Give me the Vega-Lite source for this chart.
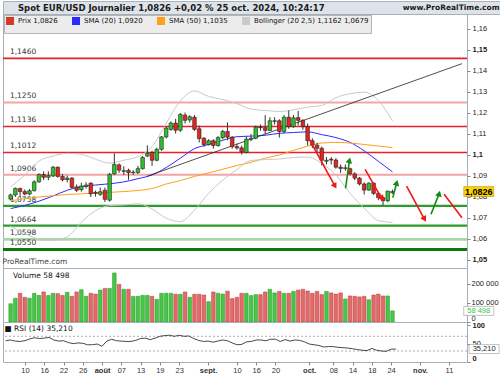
{
  "$schema": "https://vega.github.io/schema/vega-lite/v6.json",
  "padding": {"left": 1, "top": 0, "right": 0, "bottom": 0},
  "bounds": "flush",
  "spacing": 0,
  "background": "white",
  "config": {
    "font": "DejaVu Sans",
    "view": {"stroke": "#a3afb9"},
    "axis": {"labelFont": "Liberation Sans", "labelFontSize": 7.5, "labelColor": "#222", "tickColor": "#888", "tickSize": 3, "domain": false, "grid": false, "labelPadding": 2, "labelOverlap": false, "labelBound": false, "labelSeparation": 0},
    "title": {"font": "DejaVu Sans", "fontSize": 7.5, "fontWeight": "normal", "color": "#111"},
    "legend": {"labelFont": "DejaVu Sans"}
  },
  "datasets": {
    "candles": [
      {"i":0,"o":1.0790,"h":1.0816,"l":1.0784,"c":1.0810,"v":96000,"r":58},
      {"i":1,"o":1.0810,"h":1.0845,"l":1.0800,"c":1.0841,"v":125000,"r":60},
      {"i":2,"o":1.0840,"h":1.0845,"l":1.0800,"c":1.0826,"v":151000,"r":57},
      {"i":3,"o":1.0826,"h":1.0836,"l":1.0808,"c":1.0814,"v":130000,"r":56},
      {"i":4,"o":1.0814,"h":1.0838,"l":1.0808,"c":1.0830,"v":125000,"r":58},
      {"i":5,"o":1.0830,"h":1.0880,"l":1.0826,"c":1.0872,"v":151000,"r":63},
      {"i":6,"o":1.0872,"h":1.0912,"l":1.0868,"c":1.0907,"v":140000,"r":66},
      {"i":7,"o":1.0907,"h":1.0922,"l":1.0880,"c":1.0894,"v":158000,"r":64},
      {"i":8,"o":1.0894,"h":1.0922,"l":1.0880,"c":1.0902,"v":140000,"r":65},
      {"i":9,"o":1.0900,"h":1.0948,"l":1.0895,"c":1.0942,"v":151000,"r":67},
      {"i":10,"o":1.0942,"h":1.0945,"l":1.0892,"c":1.0898,"v":149000,"r":60},
      {"i":11,"o":1.0898,"h":1.0910,"l":1.0875,"c":1.0882,"v":140000,"r":57},
      {"i":12,"o":1.0883,"h":1.0902,"l":1.0870,"c":1.0890,"v":156000,"r":58},
      {"i":13,"o":1.0890,"h":1.0895,"l":1.0840,"c":1.0846,"v":135000,"r":53},
      {"i":14,"o":1.0848,"h":1.0860,"l":1.0824,"c":1.0832,"v":158000,"r":50},
      {"i":15,"o":1.0835,"h":1.0868,"l":1.0826,"c":1.0852,"v":170000,"r":52},
      {"i":16,"o":1.0850,"h":1.0870,"l":1.0840,"c":1.0857,"v":135000,"r":51},
      {"i":17,"o":1.0866,"h":1.0870,"l":1.0800,"c":1.0815,"v":151000,"r":47},
      {"i":18,"o":1.0822,"h":1.0830,"l":1.0802,"c":1.0817,"v":147000,"r":47},
      {"i":19,"o":1.0813,"h":1.0845,"l":1.0805,"c":1.0825,"v":168000,"r":49},
      {"i":20,"o":1.0832,"h":1.0845,"l":1.0776,"c":1.0789,"v":177000,"r":43},
      {"i":21,"o":1.0785,"h":1.0915,"l":1.0778,"c":1.0908,"v":177000,"r":57},
      {"i":22,"o":1.0910,"h":1.1008,"l":1.0905,"c":1.0955,"v":258000,"r":62},
      {"i":23,"o":1.0953,"h":1.0960,"l":1.0915,"c":1.0928,"v":198000,"r":58},
      {"i":24,"o":1.0922,"h":1.0946,"l":1.0905,"c":1.0925,"v":172000,"r":57},
      {"i":25,"o":1.0927,"h":1.0935,"l":1.0882,"c":1.0916,"v":172000,"r":56},
      {"i":26,"o":1.0916,"h":1.0928,"l":1.0905,"c":1.0918,"v":135000,"r":56},
      {"i":27,"o":1.0916,"h":1.0948,"l":1.0910,"c":1.0935,"v":135000,"r":59},
      {"i":28,"o":1.0935,"h":1.0995,"l":1.0930,"c":1.0988,"v":140000,"r":64},
      {"i":29,"o":1.0995,"h":1.1046,"l":1.0990,"c":1.1008,"v":140000,"r":65},
      {"i":30,"o":1.1012,"h":1.1020,"l":1.0948,"c":1.0975,"v":135000,"r":61},
      {"i":31,"o":1.0975,"h":1.1035,"l":1.0970,"c":1.1027,"v":119000,"r":65},
      {"i":32,"o":1.1027,"h":1.1090,"l":1.1020,"c":1.1086,"v":151000,"r":70},
      {"i":33,"o":1.1086,"h":1.1135,"l":1.1078,"c":1.1128,"v":151000,"r":72},
      {"i":34,"o":1.1122,"h":1.1160,"l":1.1115,"c":1.1152,"v":151000,"r":73},
      {"i":35,"o":1.1152,"h":1.1172,"l":1.1102,"c":1.1118,"v":146000,"r":70},
      {"i":36,"o":1.1118,"h":1.1200,"l":1.1110,"c":1.1193,"v":146000,"r":73},
      {"i":37,"o":1.1190,"h":1.1202,"l":1.1150,"c":1.1165,"v":158000,"r":70},
      {"i":38,"o":1.1167,"h":1.1190,"l":1.1155,"c":1.1182,"v":130000,"r":71},
      {"i":39,"o":1.1180,"h":1.1190,"l":1.1115,"c":1.1122,"v":146000,"r":64},
      {"i":40,"o":1.1125,"h":1.1140,"l":1.1060,"c":1.1078,"v":146000,"r":59},
      {"i":41,"o":1.1080,"h":1.1085,"l":1.1040,"c":1.1050,"v":142000,"r":56},
      {"i":42,"o":1.1050,"h":1.1075,"l":1.1045,"c":1.1068,"v":107000,"r":57},
      {"i":43,"o":1.1068,"h":1.1075,"l":1.1030,"c":1.1045,"v":158000,"r":54},
      {"i":44,"o":1.1045,"h":1.1090,"l":1.1040,"c":1.1083,"v":151000,"r":57},
      {"i":45,"o":1.1083,"h":1.1120,"l":1.1075,"c":1.1112,"v":147000,"r":60},
      {"i":46,"o":1.1112,"h":1.1155,"l":1.1070,"c":1.1085,"v":162000,"r":58},
      {"i":47,"o":1.1085,"h":1.1090,"l":1.1030,"c":1.1040,"v":123000,"r":52},
      {"i":48,"o":1.1040,"h":1.1055,"l":1.1025,"c":1.1034,"v":130000,"r":47},
      {"i":49,"o":1.1034,"h":1.1045,"l":1.1002,"c":1.1015,"v":151000,"r":48},
      {"i":50,"o":1.1012,"h":1.1088,"l":1.1008,"c":1.1075,"v":151000,"r":55},
      {"i":51,"o":1.1075,"h":1.1100,"l":1.1065,"c":1.1080,"v":139000,"r":56},
      {"i":52,"o":1.1080,"h":1.1140,"l":1.1075,"c":1.1133,"v":144000,"r":60},
      {"i":53,"o":1.1133,"h":1.1145,"l":1.1115,"c":1.1130,"v":144000,"r":60},
      {"i":54,"o":1.1130,"h":1.1190,"l":1.1100,"c":1.1117,"v":158000,"r":58},
      {"i":55,"o":1.1117,"h":1.1180,"l":1.1115,"c":1.1163,"v":172000,"r":62},
      {"i":56,"o":1.1160,"h":1.1180,"l":1.1145,"c":1.1163,"v":153000,"r":62},
      {"i":57,"o":1.1163,"h":1.1170,"l":1.1083,"c":1.1112,"v":161000,"r":56},
      {"i":58,"o":1.1112,"h":1.1190,"l":1.1105,"c":1.1180,"v":151000,"r":61},
      {"i":59,"o":1.1180,"h":1.1212,"l":1.1125,"c":1.1135,"v":151000,"r":57},
      {"i":60,"o":1.1135,"h":1.1190,"l":1.1130,"c":1.1177,"v":161000,"r":60},
      {"i":61,"o":1.1178,"h":1.1210,"l":1.1140,"c":1.1165,"v":168000,"r":59},
      {"i":62,"o":1.1165,"h":1.1170,"l":1.1120,"c":1.1135,"v":172000,"r":55},
      {"i":63,"o":1.1135,"h":1.1150,"l":1.1045,"c":1.1068,"v":163000,"r":49},
      {"i":64,"o":1.1068,"h":1.1080,"l":1.1033,"c":1.1047,"v":151000,"r":47},
      {"i":65,"o":1.1047,"h":1.1058,"l":1.1008,"c":1.1032,"v":161000,"r":45},
      {"i":66,"o":1.1032,"h":1.1040,"l":1.0950,"c":1.0975,"v":144000,"r":41},
      {"i":67,"o":1.0970,"h":1.0990,"l":1.0955,"c":1.0975,"v":161000,"r":42},
      {"i":68,"o":1.0980,"h":1.0990,"l":1.0955,"c":1.0976,"v":153000,"r":42},
      {"i":69,"o":1.0976,"h":1.0985,"l":1.0935,"c":1.0942,"v":147000,"r":40},
      {"i":70,"o":1.0942,"h":1.0955,"l":1.0915,"c":1.0936,"v":153000,"r":39},
      {"i":71,"o":1.0936,"h":1.0955,"l":1.0925,"c":1.0939,"v":121000,"r":38},
      {"i":72,"o":1.0935,"h":1.0940,"l":1.0903,"c":1.0910,"v":137000,"r":36},
      {"i":73,"o":1.0910,"h":1.0918,"l":1.0880,"c":1.0890,"v":135000,"r":34},
      {"i":74,"o":1.0890,"h":1.0895,"l":1.0855,"c":1.0862,"v":132000,"r":32},
      {"i":75,"o":1.0862,"h":1.0870,"l":1.0812,"c":1.0833,"v":135000,"r":31},
      {"i":76,"o":1.0833,"h":1.0870,"l":1.0830,"c":1.0866,"v":117000,"r":37},
      {"i":77,"o":1.0866,"h":1.0870,"l":1.0810,"c":1.0817,"v":142000,"r":32},
      {"i":78,"o":1.0817,"h":1.0825,"l":1.0785,"c":1.0797,"v":147000,"r":30},
      {"i":79,"o":1.0797,"h":1.0803,"l":1.0761,"c":1.0782,"v":137000,"r":29},
      {"i":80,"o":1.0782,"h":1.0830,"l":1.0775,"c":1.0828,"v":137000,"r":35},
      {"i":81,"o":1.0820,"h":1.0835,"l":1.0815,"c":1.0826,"v":58498,"r":35.21}
    ],
    "ind": [
      {"i":0,"s":"SMA (20) 1,0920","k":"s20","v":1.0745},{"i":3,"s":"SMA (20) 1,0920","k":"s20","v":1.0760},{"i":6,"s":"SMA (20) 1,0920","k":"s20","v":1.0780},{"i":9,"s":"SMA (20) 1,0920","k":"s20","v":1.0805},{"i":12,"s":"SMA (20) 1,0920","k":"s20","v":1.0832},{"i":15,"s":"SMA (20) 1,0920","k":"s20","v":1.0850},{"i":18,"s":"SMA (20) 1,0920","k":"s20","v":1.0857},{"i":21,"s":"SMA (20) 1,0920","k":"s20","v":1.0863},{"i":24,"s":"SMA (20) 1,0920","k":"s20","v":1.0872},{"i":27,"s":"SMA (20) 1,0920","k":"s20","v":1.0887},{"i":30,"s":"SMA (20) 1,0920","k":"s20","v":1.0905},{"i":33,"s":"SMA (20) 1,0920","k":"s20","v":1.0940},{"i":36,"s":"SMA (20) 1,0920","k":"s20","v":1.0985},{"i":39,"s":"SMA (20) 1,0920","k":"s20","v":1.1030},{"i":42,"s":"SMA (20) 1,0920","k":"s20","v":1.1050},{"i":45,"s":"SMA (20) 1,0920","k":"s20","v":1.1070},{"i":48,"s":"SMA (20) 1,0920","k":"s20","v":1.1087},{"i":51,"s":"SMA (20) 1,0920","k":"s20","v":1.1090},{"i":54,"s":"SMA (20) 1,0920","k":"s20","v":1.1094},{"i":57,"s":"SMA (20) 1,0920","k":"s20","v":1.1103},{"i":60,"s":"SMA (20) 1,0920","k":"s20","v":1.1107},{"i":63,"s":"SMA (20) 1,0920","k":"s20","v":1.1110},{"i":66,"s":"SMA (20) 1,0920","k":"s20","v":1.1097},{"i":69,"s":"SMA (20) 1,0920","k":"s20","v":1.1083},{"i":72,"s":"SMA (20) 1,0920","k":"s20","v":1.1060},{"i":75,"s":"SMA (20) 1,0920","k":"s20","v":1.1020},{"i":78,"s":"SMA (20) 1,0920","k":"s20","v":1.0970},{"i":81,"s":"SMA (20) 1,0920","k":"s20","v":1.0920},
      {"i":0,"s":"SMA (50) 1,1035","k":"s50","v":1.0782},{"i":3,"s":"SMA (50) 1,1035","k":"s50","v":1.0792},{"i":6,"s":"SMA (50) 1,1035","k":"s50","v":1.0800},{"i":9,"s":"SMA (50) 1,1035","k":"s50","v":1.0806},{"i":12,"s":"SMA (50) 1,1035","k":"s50","v":1.0812},{"i":15,"s":"SMA (50) 1,1035","k":"s50","v":1.0815},{"i":18,"s":"SMA (50) 1,1035","k":"s50","v":1.0819},{"i":21,"s":"SMA (50) 1,1035","k":"s50","v":1.0822},{"i":24,"s":"SMA (50) 1,1035","k":"s50","v":1.0826},{"i":27,"s":"SMA (50) 1,1035","k":"s50","v":1.0831},{"i":30,"s":"SMA (50) 1,1035","k":"s50","v":1.0840},{"i":33,"s":"SMA (50) 1,1035","k":"s50","v":1.0862},{"i":36,"s":"SMA (50) 1,1035","k":"s50","v":1.0878},{"i":39,"s":"SMA (50) 1,1035","k":"s50","v":1.0898},{"i":42,"s":"SMA (50) 1,1035","k":"s50","v":1.0915},{"i":45,"s":"SMA (50) 1,1035","k":"s50","v":1.0932},{"i":48,"s":"SMA (50) 1,1035","k":"s50","v":1.0950},{"i":51,"s":"SMA (50) 1,1035","k":"s50","v":1.0965},{"i":54,"s":"SMA (50) 1,1035","k":"s50","v":1.0985},{"i":57,"s":"SMA (50) 1,1035","k":"s50","v":1.1000},{"i":60,"s":"SMA (50) 1,1035","k":"s50","v":1.1022},{"i":63,"s":"SMA (50) 1,1035","k":"s50","v":1.1042},{"i":66,"s":"SMA (50) 1,1035","k":"s50","v":1.1057},{"i":69,"s":"SMA (50) 1,1035","k":"s50","v":1.1060},{"i":72,"s":"SMA (50) 1,1035","k":"s50","v":1.1057},{"i":75,"s":"SMA (50) 1,1035","k":"s50","v":1.1050},{"i":78,"s":"SMA (50) 1,1035","k":"s50","v":1.1043},{"i":81,"s":"SMA (50) 1,1035","k":"s50","v":1.1035},
      {"i":0,"s":"Bollinger (20 2,5) 1,1162 1,0679","k":"bu","v":1.0848},{"i":3,"s":"Bollinger (20 2,5) 1,1162 1,0679","k":"bu","v":1.0905},{"i":6,"s":"Bollinger (20 2,5) 1,1162 1,0679","k":"bu","v":1.0971},{"i":9,"s":"Bollinger (20 2,5) 1,1162 1,0679","k":"bu","v":1.0995},{"i":12,"s":"Bollinger (20 2,5) 1,1162 1,0679","k":"bu","v":1.1008},{"i":15,"s":"Bollinger (20 2,5) 1,1162 1,0679","k":"bu","v":1.1003},{"i":18,"s":"Bollinger (20 2,5) 1,1162 1,0679","k":"bu","v":1.0980},{"i":21,"s":"Bollinger (20 2,5) 1,1162 1,0679","k":"bu","v":1.0961},{"i":24,"s":"Bollinger (20 2,5) 1,1162 1,0679","k":"bu","v":1.0975},{"i":27,"s":"Bollinger (20 2,5) 1,1162 1,0679","k":"bu","v":1.0992},{"i":30,"s":"Bollinger (20 2,5) 1,1162 1,0679","k":"bu","v":1.1040},{"i":33,"s":"Bollinger (20 2,5) 1,1162 1,0679","k":"bu","v":1.1151},{"i":36,"s":"Bollinger (20 2,5) 1,1162 1,0679","k":"bu","v":1.1257},{"i":39,"s":"Bollinger (20 2,5) 1,1162 1,0679","k":"bu","v":1.1305},{"i":42,"s":"Bollinger (20 2,5) 1,1162 1,0679","k":"bu","v":1.1279},{"i":45,"s":"Bollinger (20 2,5) 1,1162 1,0679","k":"bu","v":1.1264},{"i":48,"s":"Bollinger (20 2,5) 1,1162 1,0679","k":"bu","v":1.1245},{"i":51,"s":"Bollinger (20 2,5) 1,1162 1,0679","k":"bu","v":1.1218},{"i":54,"s":"Bollinger (20 2,5) 1,1162 1,0679","k":"bu","v":1.1212},{"i":57,"s":"Bollinger (20 2,5) 1,1162 1,0679","k":"bu","v":1.1207},{"i":60,"s":"Bollinger (20 2,5) 1,1162 1,0679","k":"bu","v":1.1215},{"i":63,"s":"Bollinger (20 2,5) 1,1162 1,0679","k":"bu","v":1.1228},{"i":66,"s":"Bollinger (20 2,5) 1,1162 1,0679","k":"bu","v":1.1236},{"i":69,"s":"Bollinger (20 2,5) 1,1162 1,0679","k":"bu","v":1.1273},{"i":72,"s":"Bollinger (20 2,5) 1,1162 1,0679","k":"bu","v":1.1292},{"i":75,"s":"Bollinger (20 2,5) 1,1162 1,0679","k":"bu","v":1.1299},{"i":78,"s":"Bollinger (20 2,5) 1,1162 1,0679","k":"bu","v":1.1260},{"i":81,"s":"Bollinger (20 2,5) 1,1162 1,0679","k":"bu","v":1.1162},
      {"i":0,"s":"Bollinger (20 2,5) 1,1162 1,0679","k":"bl","v":1.0660},{"i":3,"s":"Bollinger (20 2,5) 1,1162 1,0679","k":"bl","v":1.0625},{"i":6,"s":"Bollinger (20 2,5) 1,1162 1,0679","k":"bl","v":1.0600},{"i":9,"s":"Bollinger (20 2,5) 1,1162 1,0679","k":"bl","v":1.0592},{"i":12,"s":"Bollinger (20 2,5) 1,1162 1,0679","k":"bl","v":1.0610},{"i":15,"s":"Bollinger (20 2,5) 1,1162 1,0679","k":"bl","v":1.0680},{"i":18,"s":"Bollinger (20 2,5) 1,1162 1,0679","k":"bl","v":1.0735},{"i":21,"s":"Bollinger (20 2,5) 1,1162 1,0679","k":"bl","v":1.0759},{"i":24,"s":"Bollinger (20 2,5) 1,1162 1,0679","k":"bl","v":1.0762},{"i":27,"s":"Bollinger (20 2,5) 1,1162 1,0679","k":"bl","v":1.0768},{"i":30,"s":"Bollinger (20 2,5) 1,1162 1,0679","k":"bl","v":1.0743},{"i":33,"s":"Bollinger (20 2,5) 1,1162 1,0679","k":"bl","v":1.0699},{"i":36,"s":"Bollinger (20 2,5) 1,1162 1,0679","k":"bl","v":1.0683},{"i":39,"s":"Bollinger (20 2,5) 1,1162 1,0679","k":"bl","v":1.0737},{"i":42,"s":"Bollinger (20 2,5) 1,1162 1,0679","k":"bl","v":1.0817},{"i":45,"s":"Bollinger (20 2,5) 1,1162 1,0679","k":"bl","v":1.0880},{"i":48,"s":"Bollinger (20 2,5) 1,1162 1,0679","k":"bl","v":1.0930},{"i":51,"s":"Bollinger (20 2,5) 1,1162 1,0679","k":"bl","v":1.0974},{"i":54,"s":"Bollinger (20 2,5) 1,1162 1,0679","k":"bl","v":1.0978},{"i":57,"s":"Bollinger (20 2,5) 1,1162 1,0679","k":"bl","v":1.0981},{"i":60,"s":"Bollinger (20 2,5) 1,1162 1,0679","k":"bl","v":1.0988},{"i":63,"s":"Bollinger (20 2,5) 1,1162 1,0679","k":"bl","v":1.0990},{"i":66,"s":"Bollinger (20 2,5) 1,1162 1,0679","k":"bl","v":1.0960},{"i":69,"s":"Bollinger (20 2,5) 1,1162 1,0679","k":"bl","v":1.0905},{"i":72,"s":"Bollinger (20 2,5) 1,1162 1,0679","k":"bl","v":1.0818},{"i":75,"s":"Bollinger (20 2,5) 1,1162 1,0679","k":"bl","v":1.0747},{"i":78,"s":"Bollinger (20 2,5) 1,1162 1,0679","k":"bl","v":1.0688},{"i":81,"s":"Bollinger (20 2,5) 1,1162 1,0679","k":"bl","v":1.0679}
    ],
    "levels": [
      {"p":1.146,"lbl":"1,1460","kind":"r"},
      {"p":1.125,"lbl":"1,1250","kind":"rl"},
      {"p":1.1136,"lbl":"1,1136","kind":"r"},
      {"p":1.1012,"lbl":"1,1012","kind":"r"},
      {"p":1.0906,"lbl":"1,0906","kind":"rl"},
      {"p":1.0758,"lbl":"1,0758","kind":"g"},
      {"p":1.0664,"lbl":"1,0664","kind":"g"},
      {"p":1.0598,"lbl":"1,0598","kind":"gl"},
      {"p":1.055,"lbl":"1,0550","kind":"gd"}
    ],
    "arrows": [
      {"t":"d","i1":63.2,"p1":1.1082,"i2":68.8,"p2":1.0852,"h":true},
      {"t":"d","i1":75.2,"p1":1.0932,"i2":78.7,"p2":1.0793,"h":true},
      {"t":"d","i1":84.0,"p1":1.0852,"i2":87.8,"p2":1.0694,"h":true},
      {"t":"d","i1":91.95,"p1":1.0813,"i2":95.75,"p2":1.0701,"h":false},
      {"t":"u","i1":71.05,"p1":1.0841,"i2":71.88,"p2":1.0975,"h":true},
      {"t":"u","i1":81.07,"p1":1.0797,"i2":81.9,"p2":1.0868,"h":true},
      {"t":"u","i1":89.17,"p1":1.0718,"i2":90.91,"p2":1.0816,"h":true}
    ],
    "trend": [{"i1":29,"p1":1.0899,"i2":95.75,"p2":1.1435}]
  },
  "vconcat": [
    {
      "width": 499,
      "height": 13,
      "view": {"fill": "#dde3e8", "stroke": "#a7b2bb"},
      "layer": [
        {
          "data": {"values": [{"t": "Spot EUR/USD Journalier 1,0826 +0,02 % 25 oct. 2024, 10:24:17"}]},
          "mark": {"type": "text", "align": "left", "baseline": "middle", "fontWeight": "bold", "fontSize": 8.5, "color": "#1a1a1a"},
          "encoding": {
            "text": {"field": "t"},
            "x": {"datum": 0.03, "type": "quantitative", "scale": {"domain": [0, 1]}, "axis": null}
          }
        },
        {
          "data": {"values": [{"t": "www.ProRealTime.com"}]},
          "mark": {"type": "text", "align": "right", "baseline": "middle", "fontWeight": "bold", "fontSize": 7.5, "color": "#1a1a1a"},
          "encoding": {
            "text": {"field": "t"},
            "x": {"datum": 0.995, "type": "quantitative"}
          }
        }
      ]
    },
    {
      "width": 464,
      "height": 254,
      "title": {"text": "ProRealTime.com", "orient": "bottom", "anchor": "start", "offset": -10, "dx": 1, "color": "#444"},
      "layer": [
        {
          "data": {"name": "levels"},
          "mark": {"type": "rule"},
          "encoding": {
            "y": {"field": "p", "type": "quantitative", "scale": {"domain": [1.04619, 1.16714], "nice": false, "zero": false},
              "axis": {"orient": "right", "title": null, "values": [1.05,1.06,1.07,1.08,1.09,1.1,1.11,1.12,1.13,1.14,1.15,1.16],
                "tickCount": 100, "labelOverlap": false,
                "labelExpr": "replace(format(datum.value, '.2~f'), '.', ',')",
                "labelFontWeight": {"condition": {"test": "round(datum.value*100) % 5 == 0", "value": "bold"}, "value": "normal"}}},
            "stroke": {"field": "kind", "type": "nominal", "scale": {"domain": ["r","rl","g","gl","gd"], "range": ["#e8202a","#f5a3a3","#2e9b2e","#a9d6a9","#0a7a0a"]}, "legend": null},
            "strokeWidth": {"field": "kind", "type": "ordinal", "scale": {"domain": ["r","rl","g","gl","gd"], "range": [1.6, 3, 1.3, 3, 3]}, "legend": null}
          }
        },
        {
          "data": {"name": "levels"},
          "mark": {"type": "text", "align": "left", "baseline": "bottom", "dy": -2, "fontSize": 7.5, "color": "#333"},
          "encoding": {
            "x": {"datum": -0.15, "type": "quantitative", "scale": {"domain": [-0.56, 95.75], "nice": false, "zero": false}, "axis": null},
            "y": {"field": "p", "type": "quantitative"},
            "text": {"field": "lbl"}
          }
        },
        {
          "data": {"name": "ind"},
          "mark": {"type": "line", "strokeWidth": 1, "interpolate": "monotone"},
          "encoding": {
            "x": {"field": "i", "type": "quantitative"},
            "y": {"field": "v", "type": "quantitative"},
            "detail": {"field": "k"},
            "color": {"field": "s", "type": "nominal",
              "scale": {"domain": ["Prix 1,0826", "SMA (20) 1,0920", "SMA (50) 1,1035", "Bollinger (20 2,5) 1,1162 1,0679"], "range": ["#d23a2a", "#2b2bff", "#ff9f1a", "#c9c9c9"]},
              "legend": {"orient": "none", "legendX": 1, "legendY": 14, "direction": "horizontal", "title": null, "symbolType": "square", "symbolSize": 16, "symbolStrokeWidth": 4, "labelFontSize": 7, "labelColor": "#111", "fillColor": "#ececec", "strokeColor": "#b5b5b5", "padding": 2, "columnPadding": 8, "labelOffset": 4}}
          }
        },
        {
          "data": {"name": "trend"},
          "mark": {"type": "rule", "color": "#222", "strokeWidth": 0.8},
          "encoding": {
            "x": {"field": "i1", "type": "quantitative"},
            "y": {"field": "p1", "type": "quantitative"},
            "x2": {"field": "i2"},
            "y2": {"field": "p2"}
          }
        },
        {
          "data": {"name": "candles"},
          "mark": {"type": "rule", "color": "#333", "strokeWidth": 1},
          "encoding": {
            "x": {"field": "i", "type": "quantitative"},
            "y": {"field": "l", "type": "quantitative"},
            "y2": {"field": "h"}
          }
        },
        {
          "data": {"name": "candles"},
          "mark": {"type": "bar", "width": 3.6, "stroke": "#222", "strokeWidth": 0.6},
          "encoding": {
            "x": {"field": "i", "type": "quantitative"},
            "y": {"field": "o", "type": "quantitative"},
            "y2": {"field": "c"},
            "fill": {"condition": {"test": "datum.c >= datum.o", "value": "#2fbf2f"}, "value": "#e3271f"}
          }
        },
        {
          "data": {"name": "arrows"},
          "mark": {"type": "rule", "strokeWidth": 1.6},
          "encoding": {
            "x": {"field": "i1", "type": "quantitative"},
            "y": {"field": "p1", "type": "quantitative"},
            "x2": {"field": "i2"},
            "y2": {"field": "p2"},
            "color": {"condition": {"test": "datum.t == 'd'", "value": "#f01818"}, "value": "#168a16"}
          }
        },
        {
          "data": {"name": "arrows"},
          "transform": [{"filter": "datum.h"}],
          "mark": {"type": "point", "shape": "triangle-up", "filled": true, "size": 45, "opacity": 1},
          "encoding": {
            "x": {"field": "i2", "type": "quantitative"},
            "y": {"field": "p2", "type": "quantitative"},
            "color": {"condition": {"test": "datum.t == 'd'", "value": "#f01818"}, "value": "#168a16"},
            "angle": {"condition": {"test": "datum.t == 'd'", "value": 151}, "value": 15}
          }
        },
        {
          "data": {"values": [{"p": 1.0826, "t": "1,0826"}]},
          "mark": {"type": "point", "shape": "M-1,-0.33H1V0.33H-1Z", "size": 900, "filled": true, "fill": "#ffd200", "stroke": "#a08800", "strokeWidth": 0.5, "opacity": 1},
          "encoding": {
            "x": {"datum": 99.3, "type": "quantitative"},
            "y": {"field": "p", "type": "quantitative"}
          }
        },
        {
          "data": {"values": [{"p": 1.0826, "t": "1,0826"}]},
          "mark": {"type": "text", "font": "Liberation Sans", "fontWeight": "bold", "fontSize": 9, "color": "#000"},
          "encoding": {
            "x": {"datum": 99.3, "type": "quantitative"},
            "y": {"field": "p", "type": "quantitative"},
            "text": {"field": "t"}
          }
        }
      ]
    },
    {
      "width": 464,
      "height": 54,
      "title": {"text": "Volume 58 498", "anchor": "start", "offset": -11, "dx": 10},
      "layer": [
        {
          "data": {"name": "candles"},
          "mark": {"type": "bar", "width": 3.6, "strokeWidth": 0.5},
          "encoding": {
            "x": {"field": "i", "type": "quantitative", "scale": {"domain": [-0.56, 95.75], "nice": false, "zero": false}, "axis": null},
            "y": {"field": "v", "type": "quantitative", "scale": {"domain": [0, 284000], "nice": false},
              "axis": {"orient": "right", "title": null, "values": [0, 100000, 200000], "tickCount": 100, "labelFlush": true, "labelOverlap": false, "labelPadding": 1,
                "labelExpr": "datum.value == 0 ? '0' : format(datum.value/1000, 'd') + ' 000'"}},
            "fill": {"condition": {"test": "datum.c >= datum.o", "value": "#45c845"}, "value": "#e46a6a"},
            "stroke": {"condition": {"test": "datum.c >= datum.o", "value": "#2a8f2a"}, "value": "#b83a3a"}
          }
        },
        {
          "data": {"values": [{"v": 58498, "t": "58 498"}]},
          "mark": {"type": "point", "shape": "M-1,-0.3H1V0.3H-1Z", "size": 900, "filled": true, "fill": "#ffffff", "stroke": "#999", "strokeWidth": 0.6, "opacity": 1},
          "encoding": {
            "x": {"datum": 99.3, "type": "quantitative"},
            "y": {"field": "v", "type": "quantitative"}
          }
        },
        {
          "data": {"values": [{"v": 58498, "t": "58 498"}]},
          "mark": {"type": "text", "font": "Liberation Sans", "fontSize": 7.5, "color": "#3cc23c"},
          "encoding": {
            "x": {"datum": 99.3, "type": "quantitative"},
            "y": {"field": "v", "type": "quantitative"},
            "text": {"field": "t"}
          }
        }
      ]
    },
    {
      "width": 464,
      "height": 40,
      "title": {"text": "■ RSI (14) 35,210", "anchor": "start", "offset": -11, "dx": 2},
      "layer": [
        {
          "data": {"values": [{"lv": 70}, {"lv": 30}]},
          "mark": {"type": "rule", "strokeDash": [2, 2], "color": "#999", "strokeWidth": 0.8},
          "encoding": {
            "y": {"field": "lv", "type": "quantitative", "scale": {"domain": [0, 109], "nice": false},
              "axis": {"orient": "right", "title": null, "values": [0, 50, 100], "tickCount": 100, "labelFlush": true, "labelOverlap": false,
                "labelFontWeight": {"condition": {"test": "datum.value != 50", "value": "bold"}, "value": "normal"}}}
          }
        },
        {
          "data": {"name": "candles"},
          "mark": {"type": "line", "color": "#333", "strokeWidth": 0.9},
          "encoding": {
            "x": {"field": "i", "type": "quantitative", "scale": {"domain": [-0.56, 95.75], "nice": false, "zero": false},
              "axis": {"orient": "bottom", "title": null, "values": [4,8,12,16,20,24,28,32,36,42,48,52,56,63,68,72,76,80,86,92],
                "tickCount": 100,
                "labelExpr": "['10','16','22','26','août','07','13','19','23','sept.','10','16','20','oct.','08','14','18','24','nov.','11'][indexof([4,8,12,16,20,24,28,32,36,42,48,52,56,63,68,72,76,80,86,92], datum.value)]",
                "labelOverlap": false, "labelPadding": 1, "labelColor": "#333",
                "labelFontWeight": {"condition": {"test": "indexof([20,42,63,86], datum.value) >= 0", "value": "bold"}, "value": "normal"}}},
            "y": {"field": "r", "type": "quantitative"}
          }
        },
        {
          "data": {"values": [{"r": 35.21, "t": "35,210"}]},
          "mark": {"type": "point", "shape": "M-1,-0.3H1V0.3H-1Z", "size": 900, "filled": true, "fill": "#ffffff", "stroke": "#999", "strokeWidth": 0.6, "opacity": 1},
          "encoding": {
            "x": {"datum": 99.3, "type": "quantitative"},
            "y": {"field": "r", "type": "quantitative"}
          }
        },
        {
          "data": {"values": [{"r": 35.21, "t": "35,210"}]},
          "mark": {"type": "text", "font": "Liberation Sans", "fontSize": 7.5, "color": "#222"},
          "encoding": {
            "x": {"datum": 99.3, "type": "quantitative"},
            "y": {"field": "r", "type": "quantitative"},
            "text": {"field": "t"}
          }
        }
      ]
    }
  ]
}
